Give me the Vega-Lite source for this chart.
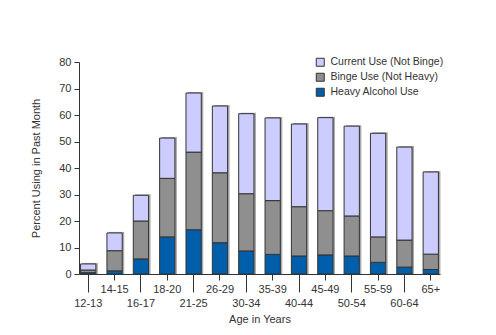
{
  "$schema": "https://vega.github.io/schema/vega-lite/v6.json",
  "width": 361,
  "height": 212,
  "autosize": {"type": "none"},
  "padding": {"left": 79, "top": 62, "right": 56, "bottom": 61},
  "background": "white",
  "config": {
    "view": {"stroke": null},
    "font": "Liberation Sans",
    "axis": {"labelFont": "Liberation Sans", "titleFont": "Liberation Sans", "labelFontSize": 11, "titleFontSize": 11, "titleFontWeight": "normal", "labelColor": "#333333", "titleColor": "#333333", "domainColor": "#333333", "tickColor": "#333333", "grid": false},
    "legend": {"labelFont": "Liberation Sans", "labelFontSize": 10.5, "labelColor": "#333333", "labelLimit": 0}
  },
  "data": {"values": [
    {"age": "12-13", "type": "Heavy Alcohol Use", "value": 0.5},
    {"age": "12-13", "type": "Binge Use (Not Heavy)", "value": 1.0},
    {"age": "12-13", "type": "Current Use (Not Binge)", "value": 2.3},
    {"age": "14-15", "type": "Heavy Alcohol Use", "value": 1.2},
    {"age": "14-15", "type": "Binge Use (Not Heavy)", "value": 7.6},
    {"age": "14-15", "type": "Current Use (Not Binge)", "value": 6.7},
    {"age": "16-17", "type": "Heavy Alcohol Use", "value": 5.7},
    {"age": "16-17", "type": "Binge Use (Not Heavy)", "value": 14.3},
    {"age": "16-17", "type": "Current Use (Not Binge)", "value": 9.7},
    {"age": "18-20", "type": "Heavy Alcohol Use", "value": 14.0},
    {"age": "18-20", "type": "Binge Use (Not Heavy)", "value": 22.1},
    {"age": "18-20", "type": "Current Use (Not Binge)", "value": 15.2},
    {"age": "21-25", "type": "Heavy Alcohol Use", "value": 16.7},
    {"age": "21-25", "type": "Binge Use (Not Heavy)", "value": 29.3},
    {"age": "21-25", "type": "Current Use (Not Binge)", "value": 22.3},
    {"age": "26-29", "type": "Heavy Alcohol Use", "value": 11.8},
    {"age": "26-29", "type": "Binge Use (Not Heavy)", "value": 26.4},
    {"age": "26-29", "type": "Current Use (Not Binge)", "value": 25.2},
    {"age": "30-34", "type": "Heavy Alcohol Use", "value": 8.7},
    {"age": "30-34", "type": "Binge Use (Not Heavy)", "value": 21.6},
    {"age": "30-34", "type": "Current Use (Not Binge)", "value": 30.2},
    {"age": "35-39", "type": "Heavy Alcohol Use", "value": 7.4},
    {"age": "35-39", "type": "Binge Use (Not Heavy)", "value": 20.3},
    {"age": "35-39", "type": "Current Use (Not Binge)", "value": 31.2},
    {"age": "40-44", "type": "Heavy Alcohol Use", "value": 6.8},
    {"age": "40-44", "type": "Binge Use (Not Heavy)", "value": 18.6},
    {"age": "40-44", "type": "Current Use (Not Binge)", "value": 31.2},
    {"age": "45-49", "type": "Heavy Alcohol Use", "value": 7.2},
    {"age": "45-49", "type": "Binge Use (Not Heavy)", "value": 16.7},
    {"age": "45-49", "type": "Current Use (Not Binge)", "value": 35.1},
    {"age": "50-54", "type": "Heavy Alcohol Use", "value": 6.8},
    {"age": "50-54", "type": "Binge Use (Not Heavy)", "value": 15.1},
    {"age": "50-54", "type": "Current Use (Not Binge)", "value": 33.9},
    {"age": "55-59", "type": "Heavy Alcohol Use", "value": 4.4},
    {"age": "55-59", "type": "Binge Use (Not Heavy)", "value": 9.6},
    {"age": "55-59", "type": "Current Use (Not Binge)", "value": 39.1},
    {"age": "60-64", "type": "Heavy Alcohol Use", "value": 2.6},
    {"age": "60-64", "type": "Binge Use (Not Heavy)", "value": 10.2},
    {"age": "60-64", "type": "Current Use (Not Binge)", "value": 35.1},
    {"age": "65+", "type": "Heavy Alcohol Use", "value": 1.7},
    {"age": "65+", "type": "Binge Use (Not Heavy)", "value": 5.8},
    {"age": "65+", "type": "Current Use (Not Binge)", "value": 31.0}
  ]},
  "transform": [
    {"calculate": "indexof(['Heavy Alcohol Use','Binge Use (Not Heavy)','Current Use (Not Binge)'], datum.type)", "as": "stackOrder"}
  ],
  "encoding": {
    "x": {
      "field": "age", "type": "nominal", "sort": null,
      "scale": {"paddingInner": 0.42, "paddingOuter": 0.06},
      "axis": {
        "title": "Age in Years", "labelAngle": 0, "titlePadding": 5,
        "tickSize": {"condition": {"test": "indexof(['12-13','16-17','21-25','30-34','40-44','50-54','60-64'], datum.value) >= 0", "value": 18}, "value": 6},
        "labelPadding": {"condition": {"test": "indexof(['12-13','16-17','21-25','30-34','40-44','50-54','60-64'], datum.value) >= 0", "value": 5}, "value": 3}
      }
    }
  },
  "layer": [
    {
      "mark": {"type": "bar", "color": "#aaaaaa", "xOffset": 2, "yOffset": -1},
      "encoding": {
        "y": {
          "aggregate": "sum", "field": "value", "type": "quantitative",
          "scale": {"domain": [0, 80]},
          "axis": {"title": "Percent Using in Past Month", "values": [0,10,20,30,40,50,60,70,80], "labelOverlap": false, "tickSize": 5, "labelPadding": 3, "titlePadding": 17}
        }
      }
    },
    {
      "mark": {"type": "bar", "stroke": "#333333", "strokeWidth": 1},
      "encoding": {
        "y": {
          "field": "value", "type": "quantitative", "stack": "zero",
          "scale": {"domain": [0, 80]},
          "axis": {"title": "Percent Using in Past Month", "values": [0,10,20,30,40,50,60,70,80], "labelOverlap": false, "tickSize": 5, "labelPadding": 3, "titlePadding": 17}
        },
        "color": {
          "field": "type", "type": "nominal",
          "scale": {"domain": ["Current Use (Not Binge)", "Binge Use (Not Heavy)", "Heavy Alcohol Use"], "range": ["#ccccff", "#8f8f8f", "#005eaa"]},
          "legend": {"title": null, "orient": "none", "legendX": 236, "legendY": -5, "symbolType": "square", "symbolSize": 64, "symbolStrokeColor": "#333333", "symbolStrokeWidth": 1, "rowPadding": 2, "labelOffset": 5}
        },
        "order": {"field": "stackOrder", "type": "quantitative"}
      }
    }
  ]
}
